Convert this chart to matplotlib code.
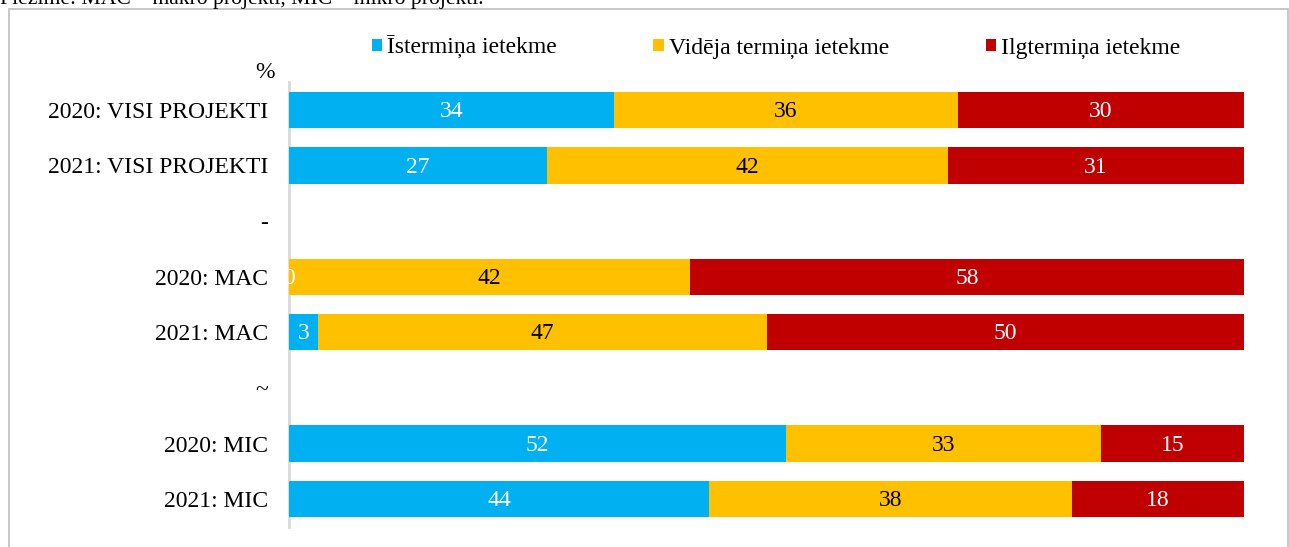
import numpy as np
import matplotlib.pyplot as plt
from matplotlib.patches import Rectangle

plt.rcParams['font.family'] = ['Liberation Serif', 'DejaVu Serif']

# categories (top to bottom); empty separators between project groups
categories = ['2020: VISI PROJEKTI', '2021: VISI PROJEKTI', '-',
              '2020: MAC', '2021: MAC', '~',
              '2020: MIC', '2021: MIC']
short_term = [34, 27, None, 0, 3, None, 52, 44]
mid_term = [36, 42, None, 42, 47, None, 33, 38]
long_term = [30, 31, None, 58, 50, None, 15, 18]

series_names = ['Īstermiņa ietekme', 'Vidēja termiņa ietekme', 'Ilgtermiņa ietekme']
colors = ['#00B0F0', '#FFC000', '#C00000']
label_colors = ['white', 'black', 'white']
fs = 17

fig = plt.figure(figsize=(12.89, 5.47), dpi=100)
ax = fig.add_axes([289 / 1289, 20 / 547, (1244 - 289) / 1289, 445 / 547])

# outer frame of the chart area
fig.patches.append(Rectangle((9 / 1289, -0.01), 1279 / 1289, 1 - 9 / 547 + 0.01,
                             transform=fig.transFigure, fill=False,
                             edgecolor='#bfbfbf', linewidth=1.2))
# note above the frame (cut off by the page edge)
fig.text(0.0, 1 - 4 / 547, 'Piezīme: MAC – makro projekti, MIC – mikro projekti.',
         fontsize=15.6, va='baseline', ha='left')

y = np.arange(len(categories))
series = [short_term, mid_term, long_term]
left = np.zeros(len(categories))
for vals, name, col, lcol in zip(series, series_names, colors, label_colors):
    v = np.array([np.nan if s is None else s for s in vals], dtype=float)
    ax.barh(y, np.nan_to_num(v), left=left, height=0.65, color=col,
            label=name, edgecolor='none')
    for yi, (l, w) in enumerate(zip(left, v)):
        if np.isnan(w):
            continue
        ax.text(l + w / 2, yi + 0.03, f'{w:.0f}', ha='center', va='center',
                color=lcol, fontsize=fs, clip_on=False)
    left = left + np.nan_to_num(v)

ax.set_ylim(len(categories) - 0.5, -0.5)
ax.set_xlim(0, 100)
ax.set_yticks(y)
ax.set_yticklabels(categories, fontsize=fs)
ax.tick_params(axis='y', length=0, pad=15)
ax.set_xticks([])
for s in ['top', 'right', 'bottom']:
    ax.spines[s].set_visible(False)
ax.spines['left'].set_color('#d9d9d9')
ax.spines['left'].set_linewidth(2)
ax.spines['left'].set_zorder(0)

fig.text(265 / 1289, 1 - 72 / 547, '%', fontsize=fs, ha='center', va='center')

fig.legend(loc='center', bbox_to_anchor=(776 / 1289, 1 - 47 / 547), ncol=3,
           frameon=False, fontsize=fs, handlelength=0.45, handleheight=0.45,
           handletextpad=0.2, columnspacing=4.1)

fig.savefig('out.png', dpi=100)
